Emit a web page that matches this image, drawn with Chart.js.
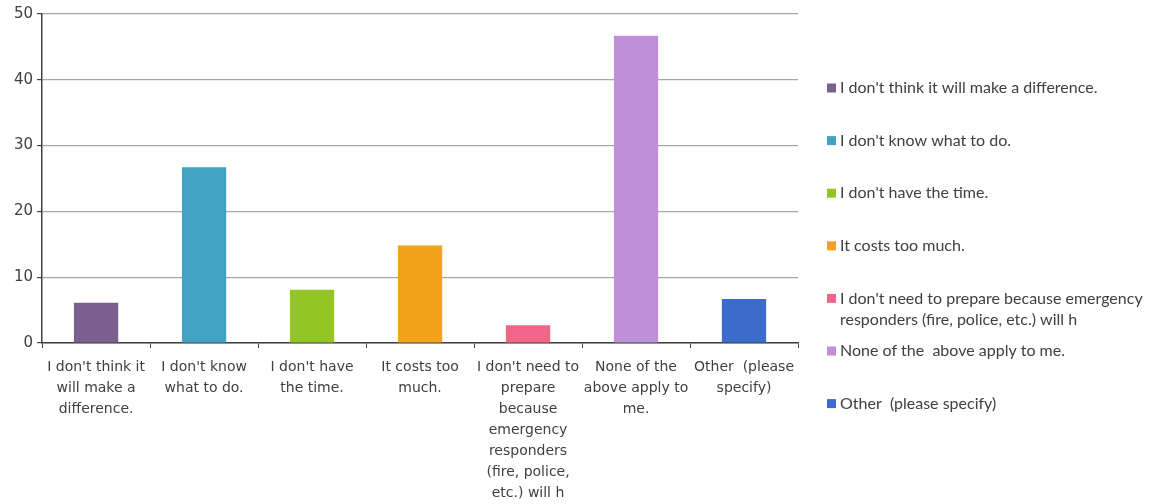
<!DOCTYPE html>
<html>
<head>
<meta charset="utf-8">
<script src="https://cdn.jsdelivr.net/npm/chart.js@4"></script>
<style>
  body { margin: 0; background: #fff; }
  #wrap { width: 1149px; height: 504px; }
</style>
</head>
<body>
<div id="wrap"><canvas id="reasonsChart"></canvas></div>
<script>
// Data
const categories = [
    "I don't think it will make a difference.",
    "I don't know what to do.",
    "I don't have the time.",
    "It costs too much.",
    "I don't need to prepare because emergency responders (fire, police, etc.) will h",
    "None of the  above apply to me.",
    "Other  (please specify)"
];
const tickLabels = [
    ["I don't think it", "will make a", "difference."],
    ["I don't know", "what to do."],
    ["I don't have", "the time."],
    ["It costs too", "much."],
    ["I don't need to", "prepare", "because", "emergency", "responders", "(fire, police,", "etc.) will h"],
    ["None of the", "above apply to", "me."],
    ["Other  (please", "specify)"]
];
const values = [6.1, 26.7, 8.1, 14.8, 2.7, 46.7, 6.7];
const barColors = ['#7a5f8f', '#41a2c4', '#93c524', '#f3a31a', '#ef6689', '#bf90d8', '#3b6ccb'];
const yTicks = [0, 10, 20, 30, 40, 50];

const axisColor = '#404040';
const gridColor = '#a6a6a6';

// Legend drawn at right, one entry per category
const sideLegend = {
    id: 'sideLegend',
    afterDraw(chart) {
        const ctx = chart.ctx;
        const ds = chart.data.datasets[0];
        const x = 827, y0 = 88, step = 52.6, lineH = 21.6, box = 9, maxW = 310;
        ctx.save();
        ctx.font = '16px Lato';
        ctx.textBaseline = 'middle';
        categories.forEach((name, i) => {
            const y = y0 + i * step;
            ctx.fillStyle = ds.backgroundColor[i];
            ctx.fillRect(x, y - box / 2, box, box);
            // wrap text
            const words = name.split(' ');
            const lines = [];
            let cur = '';
            words.forEach(w => {
                const test = cur ? cur + ' ' + w : w;
                if (ctx.measureText(test).width > maxW && cur) {
                    lines.push(cur);
                    cur = w;
                } else {
                    cur = test;
                }
            });
            lines.push(cur);
            ctx.fillStyle = '#404040';
            lines.forEach((ln, j) => ctx.fillText(ln, x + 13, y + j * lineH));
        });
        ctx.restore();
    }
};

const ctx = document.getElementById('reasonsChart').getContext('2d');
new Chart(ctx, {
    type: 'bar',
    data: {
        labels: tickLabels,
        datasets: [{
            data: values,
            backgroundColor: barColors,
            borderWidth: 0,
            categoryPercentage: 1,
            barPercentage: 0.41
        }]
    },
    options: {
        responsive: true,
        maintainAspectRatio: false,
        animation: false,
        layout: { padding: { left: 10, right: 351, top: 14, bottom: 0 } },
        plugins: {
            legend: { display: false },
            tooltip: { enabled: false }
        },
        scales: {
            x: {
                afterFit: scale => { scale.height = 161; },
                grid: {
                    offset: true,
                    drawOnChartArea: false,
                    tickLength: 5,
                    color: axisColor
                },
                border: { color: axisColor, width: 1.5 },
                ticks: {
                    autoSkip: false,
                    maxRotation: 0,
                    minRotation: 0,
                    padding: 9,
                    color: '#404040',
                    font: { family: 'DejaVu Sans', size: 14, lineHeight: 1.5 }
                }
            },
            y: {
                min: 0,
                max: 50,
                afterBuildTicks: axis => { axis.ticks = yTicks.map(v => ({ value: v })); },
                grid: {
                    color: gridColor,
                    tickColor: axisColor,
                    tickLength: 5,
                    lineWidth: 1.2
                },
                border: { color: axisColor, width: 1.5 },
                ticks: {
                    padding: 4,
                    color: '#404040',
                    font: { family: 'DejaVu Sans', size: 15 }
                }
            }
        }
    },
    plugins: [sideLegend]
});
</script>
</body>
</html>
